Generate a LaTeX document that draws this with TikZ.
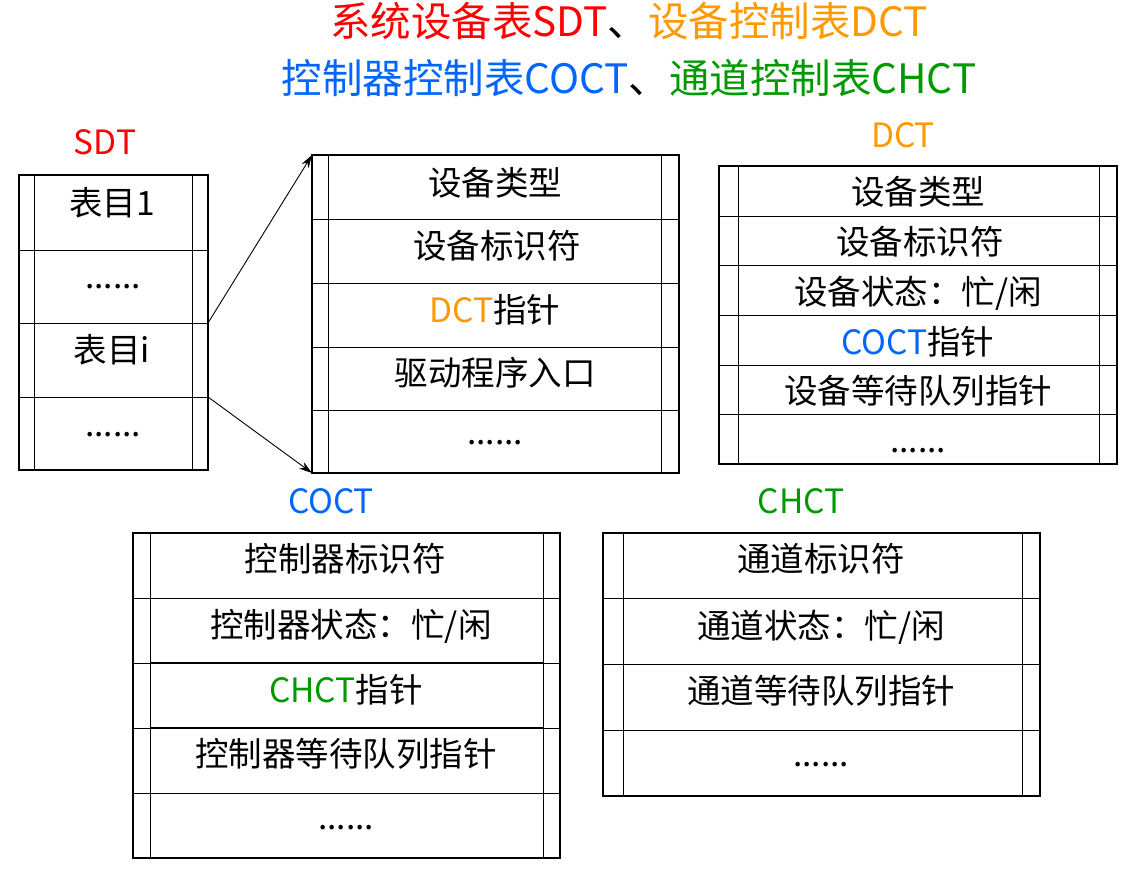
\documentclass[tikz,border=0pt]{standalone}
\usepackage{fontspec}
\setmainfont{Noto Sans CJK SC}
\usetikzlibrary{calc,arrows.meta}
\definecolor{cred}{HTML}{FF0000}
\definecolor{corange}{HTML}{FF9900}
\definecolor{cblue}{HTML}{0066FF}
\definecolor{cgreen}{HTML}{009900}
\tikzset{
  cell/.style={draw, line width=0.8pt, inner sep=0pt, outer sep=0pt, anchor=north west},
  outerbox/.style={line width=1.8pt},
  innerline/.style={line width=0.8pt},
  txt/.style={inner sep=0pt, text height=26.8pt, text depth=1.7pt, anchor=center, font=\fontsize{33.5}{38}\selectfont},
  dots/.style={inner sep=0pt, anchor=base, font=\fontsize{33.5}{38}\selectfont},
  ttl/.style={inner sep=0pt, text height=32.4pt, text depth=2pt, anchor=center, font=\fontsize{40.5}{46}\selectfont},
  ptr/.style={-{Stealth[length=13pt,width=8pt]}, line width=0.9pt},
}
\begin{document}
\begin{tikzpicture}[x=1pt,y=-1pt]
\useasboundingbox (0,0) rectangle (1122,874);
% titles
\node[ttl] (title1) at (629,21) {\textcolor{cred}{系统设备表SDT}、\textcolor{corange}{设备控制表DCT}};
\node[ttl] (title2) at (629,78) {\textcolor{cblue}{控制器控制表COCT}、\textcolor{cgreen}{通道控制表CHCT}};
% labels
\node[txt, text=cred] (lsdt) at (105,142) {SDT};
\node[txt, text=corange] (ldct) at (903,135) {DCT};
\node[txt, text=cblue] (lcoct) at (331,501) {COCT};
\node[txt, text=cgreen] (lchct) at (801,501) {CHCT};

% ---------- SDT ----------
\node[cell, minimum width=189pt, minimum height=75pt] (sdt1) at (19,175) {};
\node[cell, minimum width=189pt, minimum height=73pt] (sdt2) at (19,250) {};
\node[cell, minimum width=189pt, minimum height=74pt] (sdt3) at (19,323) {};
\node[cell, minimum width=189pt, minimum height=73pt] (sdt4) at (19,397) {};
\draw[outerbox] (sdt1.north west) rectangle (sdt4.south east);
\draw[innerline] ($(sdt1.north west)+(15,0)$) -- ($(sdt4.south west)+(15,0)$);
\draw[innerline] ($(sdt1.north east)+(-16,0)$) -- ($(sdt4.south east)+(-16,0)$);
\node[txt] (sdt1t) at (112,203) {表目1};
\node[dots] (sdt2t) at (113,289) {......};
\node[txt] (sdt3t) at (112,350) {表目i};
\node[dots] (sdt4t) at (113,437) {......};

% ---------- expanded DCT ----------
\node[cell, minimum width=367pt, minimum height=64pt] (ex1) at (312,155) {};
\node[cell, minimum width=367pt, minimum height=64pt] (ex2) at (312,219) {};
\node[cell, minimum width=367pt, minimum height=64pt] (ex3) at (312,283) {};
\node[cell, minimum width=367pt, minimum height=63pt] (ex4) at (312,347) {};
\node[cell, minimum width=367pt, minimum height=63pt] (ex5) at (312,410) {};
\draw[outerbox] (ex1.north west) rectangle (ex5.south east);
\draw[innerline] ($(ex1.north west)+(16,0)$) -- ($(ex5.south west)+(16,0)$);
\draw[innerline] ($(ex1.north east)+(-18,0)$) -- ($(ex5.south east)+(-18,0)$);
\node[txt] (ex1t) at (495,183) {设备类型};
\node[txt] (ex2t) at (497,246) {设备标识符};
\node[txt] (ex3t) at (495,310) {\textcolor{corange}{DCT}指针};
\node[txt] (ex4t) at (495,373) {驱动程序入口};
\node[dots] (ex5t) at (495,444) {......};

% arrows
\draw[ptr] (sdt3.north east) -- (ex1.north west);
\draw[ptr] (sdt4.north east) -- (ex5.south west);

% ---------- DCT ----------
\node[cell, minimum width=398pt, minimum height=50pt] (dct1) at (719,166) {};
\node[cell, minimum width=398pt, minimum height=49pt] (dct2) at (719,216) {};
\node[cell, minimum width=398pt, minimum height=50pt] (dct3) at (719,265) {};
\node[cell, minimum width=398pt, minimum height=50pt] (dct4) at (719,315) {};
\node[cell, minimum width=398pt, minimum height=49pt] (dct5) at (719,365) {};
\node[cell, minimum width=398pt, minimum height=50pt] (dct6) at (719,414) {};
\draw[outerbox] (dct1.north west) rectangle (dct6.south east);
\draw[innerline] ($(dct1.north west)+(19,0)$) -- ($(dct6.south west)+(19,0)$);
\draw[innerline] ($(dct1.north east)+(-18,0)$) -- ($(dct6.south east)+(-18,0)$);
\node[txt] (dct1t) at (918,192) {设备类型};
\node[txt] (dct2t) at (920,242) {设备标识符};
\node[txt] (dct3t) at (918,292) {设备状态：忙/闲};
\node[txt] (dct4t) at (918,342) {\textcolor{cblue}{COCT}指针};
\node[txt] (dct5t) at (918,391) {设备等待队列指针};
\node[dots] (dct6t) at (918,453) {......};

% ---------- COCT ----------
\node[cell, minimum width=427pt, minimum height=65pt] (coct1) at (133,533) {};
\node[cell, minimum width=427pt, minimum height=65pt] (coct2) at (133,598) {};
\node[cell, minimum width=427pt, minimum height=65pt] (coct3) at (133,663) {};
\node[cell, minimum width=427pt, minimum height=65pt] (coct4) at (133,728) {};
\node[cell, minimum width=427pt, minimum height=65pt] (coct5) at (133,793) {};
\draw[outerbox] (coct1.north west) rectangle (coct5.south east);
\draw[innerline] ($(coct1.north west)+(17,0)$) -- ($(coct5.south west)+(17,0)$);
\draw[innerline] ($(coct1.north east)+(-17,0)$) -- ($(coct5.south east)+(-17,0)$);
\draw[line width=1.5pt] ($(coct3.north west)+(17,0)$) -- ($(coct3.north east)+(-17,0)$);
\draw[line width=1.2pt] ($(coct4.north west)+(17,0)$) -- ($(coct4.north east)+(-17,0)$);
\node[txt] (coct1t) at (345,559) {控制器标识符};
\node[txt] (coct2t) at (351,625) {控制器状态：忙/闲};
\node[txt] (coct3t) at (346,690) {\textcolor{cgreen}{CHCT}指针};
\node[txt] (coct4t) at (346,754) {控制器等待队列指针};
\node[dots] (coct5t) at (346,829) {......};

% ---------- CHCT ----------
\node[cell, minimum width=437pt, minimum height=65pt] (chct1) at (603,533) {};
\node[cell, minimum width=437pt, minimum height=66pt] (chct2) at (603,598) {};
\node[cell, minimum width=437pt, minimum height=66pt] (chct3) at (603,664) {};
\node[cell, minimum width=437pt, minimum height=66pt] (chct4) at (603,730) {};
\draw[outerbox] (chct1.north west) rectangle (chct4.south east);
\draw[innerline] ($(chct1.north west)+(20,0)$) -- ($(chct4.south west)+(20,0)$);
\draw[innerline] ($(chct1.north east)+(-18,0)$) -- ($(chct4.south east)+(-18,0)$);
\node[txt] (chct1t) at (821,559) {通道标识符};
\node[txt] (chct2t) at (821,626) {通道状态：忙/闲};
\node[txt] (chct3t) at (821,691) {通道等待队列指针};
\node[dots] (chct4t) at (821,766) {......};
\end{tikzpicture}
\end{document}
